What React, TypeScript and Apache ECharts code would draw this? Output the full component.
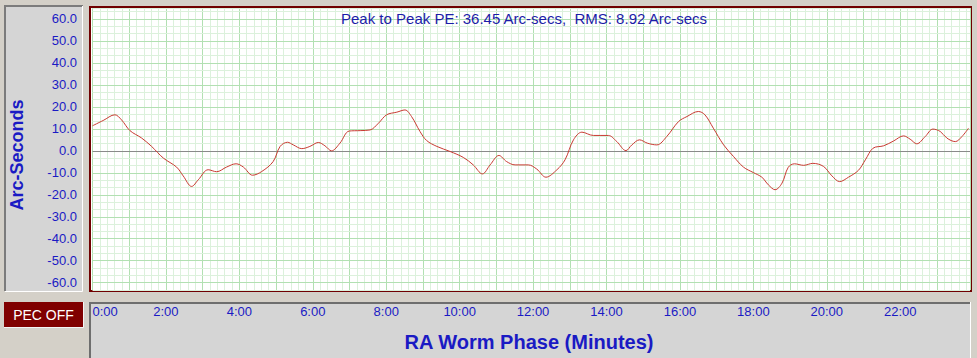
import React, { useEffect, useRef } from 'react';
import * as echarts from 'echarts';

// ---- data ----
const phaseMinutes = [
  0.0, 0.29, 0.61, 0.79, 1.02, 1.34, 1.61, 1.93, 2.29, 2.47, 2.7, 2.88, 3.15, 3.38, 3.65, 3.91,
  4.11, 4.36, 4.61, 4.92, 5.11, 5.31, 5.47, 5.7, 5.92, 6.15, 6.33, 6.51, 6.74, 6.99, 7.29, 7.56,
  7.79, 8.01, 8.29, 8.51, 8.69, 8.92, 9.1, 9.38, 9.74, 10.1, 10.37, 10.62, 10.83, 11.07, 11.28,
  11.51, 11.87, 12.1, 12.35, 12.65, 12.87, 13.1, 13.33, 13.64, 14.05, 14.28, 14.53, 14.69, 14.9,
  15.11, 15.37, 15.64, 15.96, 16.19, 16.5, 16.68, 16.91, 17.19, 17.46, 17.73, 18.0, 18.23, 18.41,
  18.59, 18.78, 18.95, 19.12, 19.37, 19.62, 19.91, 20.14, 20.35, 20.59, 20.86, 21.05, 21.26,
  21.55, 21.82, 22.09, 22.27, 22.45, 22.68, 22.89, 23.09, 23.27, 23.5, 23.68, 23.86,
];
const errorArcsec = [
  11.4, 13.8, 16.4, 14.1, 9.2, 5.8, 2.0, -3.3, -7.4, -11.4, -16.2, -13.2, -8.6, -9.5, -7.4, -5.9,
  -7.4, -11.1, -9.4, -4.9, 2.0, 3.9, 2.7, 1.0, 2.0, 3.8, 2.3, 0.0, 3.5, 9.0, 9.2, 9.5,
  12.6, 16.4, 17.6, 18.6, 15.6, 8.8, 4.7, 2.0, -0.3, -3.0, -6.4, -10.5, -6.4, -2.1, -4.9,
  -6.4, -6.4, -8.3, -12.0, -8.6, -4.1, 5.0, 8.5, 7.0, 7.0, 4.2, 0.1, 2.7, 5.0,
  3.5, 2.7, 6.5, 13.3, 15.6, 17.9, 16.4, 10.3, 2.7, -2.6, -7.4, -9.9, -12.0, -15.5,
  -17.7, -14.7, -7.5, -5.9, -6.6, -5.7, -7.1, -11.4, -14.0, -12.0, -8.9, -4.1, 1.2,
  2.3, 4.5, 6.8, 5.3, 3.2, 6.5, 9.9, 8.8, 5.8, 4.2, 6.5, 10.3,
];
const xTickLabels = ['0:00', '2:00', '4:00', '6:00', '8:00', '10:00', '12:00', '14:00', '16:00', '18:00', '20:00', '22:00'];
const titleText = 'Peak to Peak PE: 36.45 Arc-secs,  RMS: 8.92 Arc-secs';
const yAxisTitle = 'Arc-Seconds';
const xAxisTitle = 'RA Worm Phase (Minutes)';
const buttonText = 'PEC OFF';

// axis ranges
const X_STEP = 0.2; // minor grid step (minutes)
const X_MIN = 0;
const X_MAX = 23.9;
const Y_STEP = 10 / 3; // minor grid step (arc-secs)
const Y_MIN = -19 * Y_STEP;
const Y_MAX = 65;

const MAJOR = '#b2e0b2';
const MINOR = '#dcf1dc';
const ZERO = '#8a8a8a';
const BLUE = '#1a1ac4';

export default function App() {
  const ref = useRef<HTMLDivElement>(null);
  useEffect(() => {
    if (!ref.current) return;
    const chart = echarts.init(ref.current, undefined, { renderer: 'svg' });
    const yColors = Array.from({ length: 40 }, (_, k) =>
      k === 19 ? ZERO : k % 3 === 1 ? MAJOR : MINOR
    );
    const xColors = [MAJOR, MINOR, MINOR, MINOR, MINOR];
    const font = '"Liberation Sans", Arial, sans-serif';
    chart.setOption({
      animation: false,
      backgroundColor: '#d4d0c8',
      grid: { left: 92.5, top: 8, width: 877.5, height: 282, containLabel: false },
      xAxis: {
        type: 'value',
        min: X_MIN,
        max: X_MAX,
        interval: X_STEP,
        z: 0,
        axisLine: { show: false },
        axisTick: { show: false },
        splitLine: { show: true, lineStyle: { color: xColors, width: 1 } },
        axisLabel: {
          margin: 15,
          color: BLUE,
          fontSize: 13,
          fontFamily: font,
          alignMinLabel: 'left',
          formatter: (v: number) => {
            const r = Math.round(v);
            if (Math.abs(v - r) < 1e-6 && r % 2 === 0) return xTickLabels[r / 2] ?? '';
            return '';
          },
        },
      },
      yAxis: {
        type: 'value',
        min: Y_MIN,
        max: Y_MAX,
        interval: Y_STEP,
        z: 1,
        axisLine: { show: false },
        axisTick: { show: false },
        splitLine: { show: true, lineStyle: { color: yColors, width: 1 } },
        axisLabel: {
          margin: 15.5,
          color: BLUE,
          fontSize: 13,
          fontFamily: font,
          padding: [5, 0, 0, 0],
          formatter: (v: number) => {
            const r = Math.round(v);
            if (Math.abs(v - r) < 1e-6 && r % 10 === 0 && Math.abs(r) <= 60) return r.toFixed(1);
            return '';
          },
        },
      },
      series: [
        {
          type: 'line',
          data: phaseMinutes.map((m, i) => [m, errorArcsec[i]]),
          smooth: 0.35,
          symbol: 'none',
          lineStyle: { color: '#c83a32', width: 1 },
          z: 5,
        },
      ],
      graphic: [
        // left panel
        { type: 'rect', z: -1, shape: { x: 5, y: 6, width: 78, height: 285 }, style: { fill: '#d5d5d5' } },
        { type: 'polyline', z: -1, shape: { points: [[5, 291], [5, 6], [83, 6]] }, style: { stroke: '#7c7c7c', lineWidth: 2, fill: null } },
        { type: 'polyline', z: -1, shape: { points: [[5, 291.5], [82.5, 291.5], [82.5, 6]] }, style: { stroke: '#ffffff', lineWidth: 1, fill: null } },
        // plot frame
        { type: 'rect', z: -1, shape: { x: 90, y: 7, width: 881, height: 284 }, style: { fill: '#ffffff', stroke: '#700000', lineWidth: 2 } },
        // bottom panel
        { type: 'rect', z: -1, shape: { x: 89, y: 302, width: 881, height: 56 }, style: { fill: '#d5d5d5' } },
        { type: 'polyline', z: -1, shape: { points: [[90, 358], [90, 303], [970, 303]] }, style: { stroke: '#6e6e6e', lineWidth: 2, fill: null } },
        { type: 'line', z: -1, shape: { x1: 970.5, y1: 302, x2: 970.5, y2: 358 }, style: { stroke: '#ffffff', lineWidth: 1 } },
        // PEC OFF button
        { type: 'rect', z: -1, shape: { x: 4, y: 302, width: 79, height: 25 }, style: { fill: '#800000' } },
        { type: 'polyline', z: -1, shape: { points: [[4, 327.5], [83.5, 327.5], [83.5, 302]] }, style: { stroke: '#f4f4f4', lineWidth: 1, fill: null } },
        {
          type: 'text', z: 10, x: 43.5, y: 315,
          style: { text: buttonText, fill: '#ffffff', fontSize: 14, fontFamily: font, align: 'center', verticalAlign: 'middle' },
        },
        // texts
        {
          type: 'text', z: 10, x: 524, y: 18.5,
          style: { text: titleText, fill: '#1c1ca8', fontSize: 15, fontFamily: font, align: 'center', verticalAlign: 'middle' },
        },
        {
          type: 'text', z: 10, x: 17, y: 155, rotation: Math.PI / 2,
          style: { text: yAxisTitle, fill: BLUE, fontSize: 18, fontWeight: 'bold', fontFamily: font, align: 'center', verticalAlign: 'middle' },
        },
        {
          type: 'text', z: 10, x: 529, y: 341.5,
          style: { text: xAxisTitle, fill: BLUE, fontSize: 20, fontWeight: 'bold', fontFamily: font, align: 'center', verticalAlign: 'middle' },
        },
      ],
    });
    return () => chart.dispose();
  }, []);
  return <div ref={ref} style={{ position: 'absolute', left: 0, top: 0, width: 977, height: 358 }} />;
}
